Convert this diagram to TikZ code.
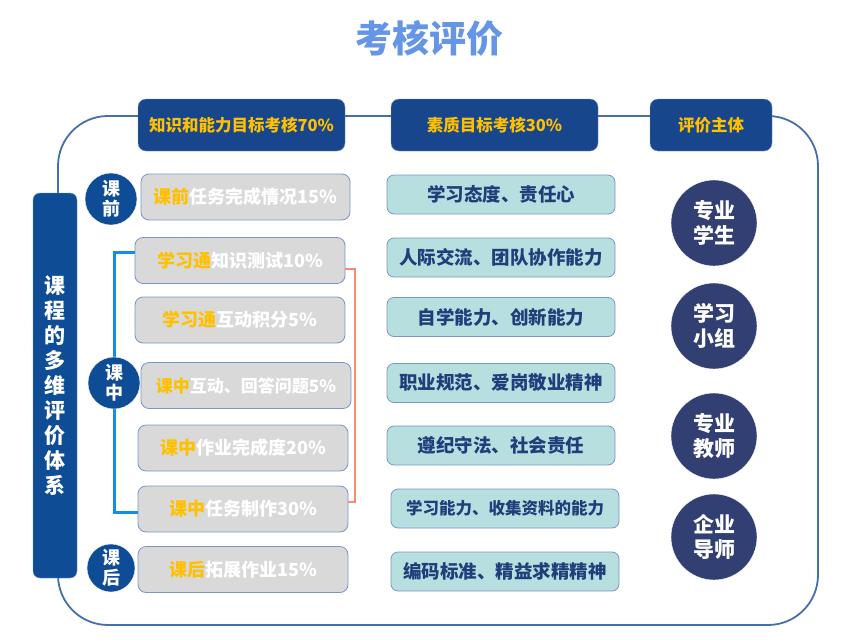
\documentclass[tikz,border=0pt]{standalone}
\usepackage{fontspec}
\setmainfont{Noto Sans CJK SC}
\usetikzlibrary{positioning, calc}

\definecolor{headblue}{RGB}{24,70,140}
\definecolor{barblue}{RGB}{14,77,150}
\definecolor{hlyellow}{RGB}{255,192,0}
\definecolor{boxgray}{RGB}{217,217,217}
\definecolor{boxedge}{RGB}{120,150,200}
\definecolor{teal}{RGB}{183,223,224}
\definecolor{tealtext}{RGB}{31,62,122}
\definecolor{navy}{RGB}{50,63,115}
\definecolor{framecol}{RGB}{70,110,170}
\definecolor{titleblue}{RGB}{100,149,230}
\definecolor{brblue}{RGB}{20,140,232}
\definecolor{brsalmon}{RGB}{245,140,120}

\newcommand{\hl}[1]{\textcolor{hlyellow}{#1}}

\begin{document}
\begin{tikzpicture}[
		x=1pt, y=-1pt,
		% Estilos de los bloques
		head/.style={draw=boxedge, fill=headblue, rounded corners=8pt, minimum height=52pt, align=center, text=hlyellow, font=\fontsize{16.5}{19}\selectfont\bfseries},
		graybox/.style={draw=boxedge, thick, fill=boxgray, rounded corners=8pt, minimum width=210pt, minimum height=46pt, text=white, font=\fontsize{18}{21}\selectfont\bfseries},
		quality/.style={draw=boxedge, thick, fill=teal, rounded corners=7pt, minimum width=228pt, minimum height=39pt, text=tealtext, font=\fontsize{18.5}{21}\selectfont\bfseries},
		stage/.style={circle, draw=white, fill=barblue, minimum size=52pt, inner sep=0pt, align=center, text=white, font=\fontsize{18}{20}\selectfont\bfseries},
		actor/.style={circle, draw=white, fill=navy, minimum size=86pt, inner sep=0pt, align=center, text=white, font=\fontsize{21}{25}\selectfont\bfseries},
		frame/.style={draw=framecol, line width=1.8pt, rounded corners=50pt}
		]
		\useasboundingbox (0,0) rectangle (849,643);
		
		% --- MARCO ---
		\coordinate (frameNW) at (58,116);
		\coordinate (frameSE) at (818,625);
		\draw [frame] (frameNW) rectangle (frameSE);
		
		% --- TITULO Y CABECERAS ---
		\node [text=titleblue, font=\fontsize{37}{40}\selectfont\bfseries] (title) at (429,38) {考核评价};
		\node [head, minimum width=207pt] (h1) at (241.5,125) {知识和能力目标考核70\%};
		\node [head, minimum width=207pt] (h2) at (494.5,125) {素质目标考核30\%};
		\node [head, minimum width=122pt] (h3) at (711,125) {评价主体};
		
		% Barra vertical
		\node [draw=boxedge, fill=barblue, rounded corners=7pt, minimum width=44pt, minimum height=385pt, align=center, text=white, font=\fontsize{21}{25}\selectfont\bfseries] (bar) at (55,385.5) {课\\程\\的\\多\\维\\评\\价\\体\\系};
		
		% --- CONOCIMIENTO Y CAPACIDAD ---
		\node [graybox, minimum width=209pt] (ls1) at (245.5,197) {\hl{课前}任务完成情况15\%};
		\node [graybox] (ls2) at (240,260.5) {\hl{学习通}知识测试10\%};
		\node [graybox] (ls3) at (240,320) {\hl{学习通}互动积分5\%};
		\node [graybox, font=\fontsize{17}{20}\selectfont\bfseries] (ls4) at (246,385.5) {\hl{课中}互动、回答问题5\%};
		\node [graybox] (ls5) at (243,448) {\hl{课中}作业完成度20\%};
		\node [graybox] (ls6) at (243,509) {\hl{课中}任务制作30\%};
		\node [graybox] (ls7) at (243,569.5) {\hl{课后}拓展作业15\%};
		
		% Corchetes
		\coordinate (kzline) at (114,383);
		\draw [brblue, line width=3pt] ([yshift=8.5pt]ls2.west) -| (kzline) |- ([yshift=-3pt]ls6.west);
		\draw [brsalmon, line width=2pt] ([yshift=-8.5pt]ls2.east) -- ++(10pt,0) |- ([yshift=7pt]ls6.east);
		
		% Etapas
		\node [stage] (kq) at (111,199) {课\\前};
		\node [stage] (kz) at (kzline) {课\\中};
		\node [stage, minimum size=48pt] (kh) at (111,568) {课\\后};
		
		% --- CALIDAD ---
		\node [quality] (q1) at (501,194.5) {学习态度、责任心};
		\node [quality] (q2) at (501,257.5) {人际交流、团队协作能力};
		\node [quality] (q3) at (501,317) {自学能力、创新能力};
		\node [quality] (q4) at (501,383) {职业规范、爱岗敬业精神};
		\node [quality] (q5) at (501,445.5) {遵纪守法、社会责任};
		\node [quality, font=\fontsize{16.5}{20}\selectfont\bfseries] (q6) at (505,508.5) {学习能力、收集资料的能力};
		\node [quality] (q7) at (505,571.5) {编码标准、精益求精精神};
		
		% --- SUJETOS DE EVALUACION ---
		\node [actor] (c1) at (714,223) {专业\\学生};
		\node [actor] (c2) at (714,326) {学习\\小组};
		\node [actor] (c3) at (714,436) {专业\\教师};
		\node [actor] (c4) at (714,537) {企业\\导师};
		
	\end{tikzpicture}
\end{document}
